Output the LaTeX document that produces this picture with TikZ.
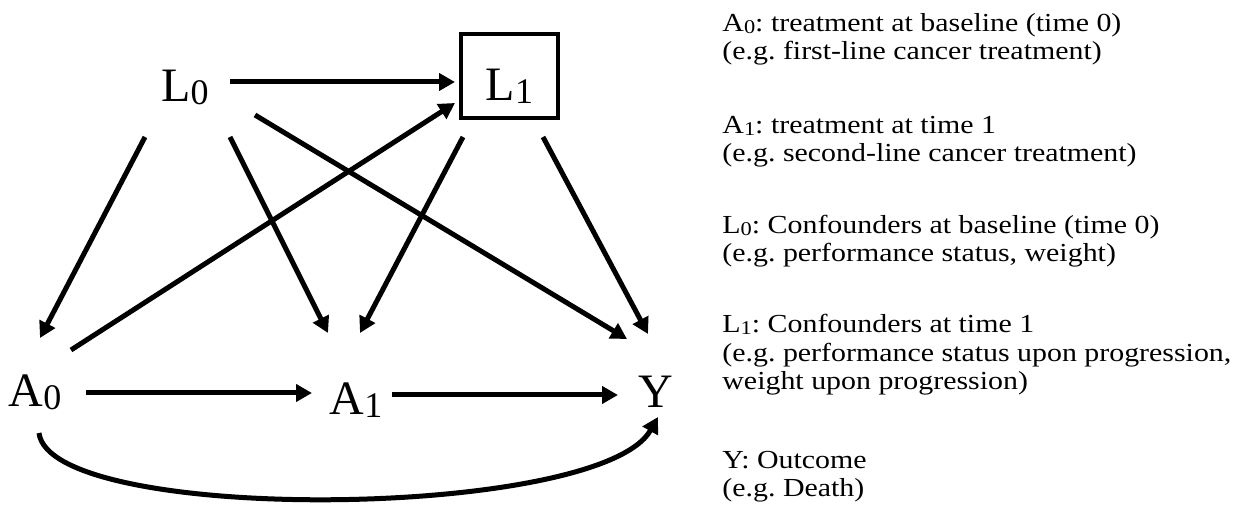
\documentclass[tikz,border=0pt]{standalone}
\usepackage{fontspec}
\setmainfont{Liberation Serif}
\newfontfamily\keyfont[FakeStretch=1.15]{Liberation Serif}
\usetikzlibrary{arrows.meta}
\newcommand\tsub[1]{\raisebox{-.06em}{\scalebox{.75}{#1}}}
\frenchspacing

\begin{document}
\begin{tikzpicture}[
    x=0.5pt, y=-0.5pt,
    every node/.append style={inner sep=0pt},
    var/.style={font=\fontsize{24}{28}\selectfont, anchor=base},
    key/.style={font=\keyfont\fontsize{13}{14.25}\selectfont, align=left, anchor=base west},
    arr/.style={line width=2.5pt, -{Triangle[length=8pt,width=8.5pt]}}
]
    \useasboundingbox (0,0) rectangle (1236,512);
    % variables
    \node[var] (L0) at (185,102) {L\tsub{0}};
    \node[var, draw, line width=2.2pt, text width=48.5pt, align=center,
          text height=33.5pt, text depth=8.5pt] (L1) at (509.5,101) {L\tsub{1}\hspace*{5pt}};
    \node[var] (A0) at (35,407)  {A\tsub{0}};
    \node[var] (A1) at (356,415) {A\tsub{1}};
    \node[var] (Y)  at (656,408) {Y};
    % arrows
    \foreach \s/\sa/\t/\ta in {
        L0/{45,-20}/L1/{-54.5,-19}, L0/{-40,35}/A0/{5,-69},
        L0/{45,35}/A1/{-28,-82},    L0/{70,13}/Y/{-29,-69},
        A0/{36,-57}/L1/{-54.5,2},   L1/{-46.5,36}/A1/{4,-82},
        L1/{33.5,36}/Y/{-8,-74},    A0/{51,-14}/A1/{-44,-22},
        A1/{36,-20}/Y/{-38,-13}}
        \draw[arr] ([shift={(\sa)}]\s.base) -- ([shift={(\ta)}]\t.base);
    \draw[arr] ([shift={(4,26)}]A0.base) .. controls +(11,92) and +(-58,103) .. ([shift={(2,9)}]Y.base);
    % legend (anchored on the last line)
    \node[key] (kA0) at (722,60)  {A\tsub{0}: treatment at baseline (time 0)\\(e.g. first-line cancer treatment)};
    \node[key] (kA1) at (722,162) {A\tsub{1}: treatment at time 1\\(e.g. second-line cancer treatment)};
    \node[key] (kL0) at (722,262) {L\tsub{0}: Confounders at baseline (time 0)\\(e.g. performance status, weight)};
    \node[key] (kL1) at (722,390) {L\tsub{1}: Confounders at time 1\\(e.g. performance status upon progression,\\weight upon progression)};
    \node[key] (kY)  at (722,497) {Y: Outcome\\(e.g. Death)};
\end{tikzpicture}
\end{document}
